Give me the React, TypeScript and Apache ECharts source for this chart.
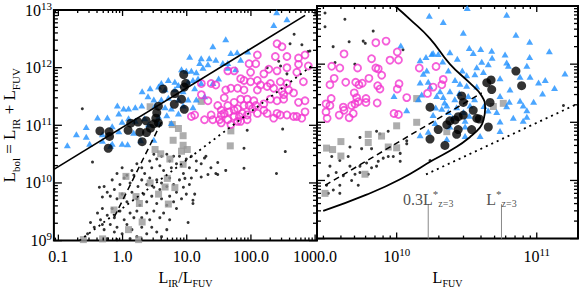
import React, { useEffect, useRef } from 'react';
import * as echarts from 'echarts';

// ---------- Left panel: [L_IR/L_FUV, L_bol] ----------
const leftDots: number[][] = [
  [0.236, 1.94e11], [0.34, 2.3e10], [0.984, 1.84e10], [1.17, 1.36e10], [1.4, 1.64e10], [1.67, 2.15e10], [1.99, 1.84e10], [2.21, 1.46e10],
  [2.65, 2.4e10], [2.85, 1.84e10], [3.07, 3.15e10], [3.41, 2.6e10], [3.81, 1.99e10], [4.05, 2.9e10], [4.36, 1.64e10], [4.89, 3.15e10],
  [5.42, 2.4e10], [5.76, 1.84e10], [6.24, 2.9e10], [6.92, 2.15e10], [7.7, 2.9e10], [8.29, 1.99e10], [8.87, 1.46e10], [9.85, 2.6e10],
  [11.0, 1.84e10], [11.8, 2.9e10], [14.1, 2.4e10], [11.8, 1.22e10], [14.1, 1.64e10], [16.8, 2.15e10], [19.9, 2.9e10], [23.8, 1.84e10],
  [28.4, 1.46e10], [16.8, 1.27e10],
  [0.69, 1.13e10], [0.82, 1.46e10], [0.91, 9.4e9], [1.06, 1.22e10], [1.31, 1e10], [1.5, 1.36e10], [1.74, 8.7e9], [1.99, 1.13e10],
  [2.38, 9.4e9], [2.65, 1.22e10], [3.07, 8.4e9], [3.41, 1.13e10], [3.81, 7.7e9], [4.05, 1e10], [4.89, 8.7e9], [5.42, 1.22e10],
  [6.24, 9.4e9], [6.92, 6.9e9], [7.7, 1.13e10], [8.87, 8.4e9], [9.85, 6.4e9], [11.0, 9.4e9],
  [0.435, 8.4e9], [0.516, 8.7e9], [0.578, 6.9e9], [0.485, 5.7e9], [0.644, 5.9e9], [0.745, 7.7e9], [0.82, 5.3e9], [0.984, 6.4e9],
  [1.17, 4.7e9], [1.4, 6.9e9], [1.67, 5.3e9], [1.86, 4.1e9], [2.14, 6.4e9], [2.38, 4.7e9], [2.85, 5.9e9], [3.41, 4.4e9],
  [4.05, 5.3e9], [4.89, 4.1e9], [5.42, 5.9e9], [6.24, 4.7e9], [6.92, 3.6e9], [8.29, 5.3e9],
  [0.407, 3e9], [0.485, 3.6e9], [0.578, 2.75e9], [0.69, 3.6e9], [0.745, 2.5e9], [0.91, 3.25e9], [1.06, 2.3e9], [1.31, 3e9],
  [1.5, 2.5e9], [1.67, 3.25e9], [1.99, 2.5e9], [2.38, 3e9], [2.65, 2.3e9], [3.07, 3.25e9], [3.81, 2.5e9], [4.36, 3e9], [5.42, 2.3e9],
  [0.317, 2.06e9], [0.362, 1.7e9], [0.453, 2.3e9], [0.516, 1.55e9], [0.644, 1.9e9], [0.745, 1.41e9], [0.82, 1.7e9], [0.984, 1.31e9],
  [1.17, 1.9e9], [1.4, 1.55e9], [1.67, 1.17e9], [1.99, 1.7e9], [2.38, 1.31e9], [2.85, 1.7e9], [3.41, 1.41e9], [4.05, 1.17e9],
  [4.89, 1.55e9], [0.578, 1.08e9], [0.82, 1.04e9], [1.31, 1.08e9], [0.285, 1.31e9], [0.485, 1.9e9],
  [10.5, 2.06e9], [12.5, 5e9], [12.5, 4.4e9], [9.36, 1.2e10], [13.3, 6.4e9], [18.9, 2.7e10], [21.4, 1.4e10], [30.4, 1.4e10],
  [30.4, 2.26e10], [40.5, 1.65e10], [78, 4e10], [78, 1.8e10], [250, 1.46e10], [343, 3.5e10], [87.5, 8.2e10], [312, 8.6e10],
  [471, 3.8e12], [407, 2.6e12], [622, 2.5e12], [828, 1.95e12], [179, 1e12], [364, 7.8e11], [774, 1.9e12], [271, 1.29e12], [290, 1.07e12],
];

const leftSquares: number[][] = [
  [2.69, 2.1e11], [16.8, 2.6e11], [5.95, 1.03e11], [7.42, 8.8e10], [8.78, 6.6e10], [6.14, 5.5e10], [8.78, 4.5e10], [3.21, 3.8e10],
  [3.93, 3.2e10], [5.46, 2.6e10], [8.29, 3.55e10], [10.2, 3.8e10], [8.78, 2.1e10], [48.7, 8e10], [47.7, 4.4e10], [1.13, 1.3e10],
  [4.98, 1.2e10], [4.6, 8.5e9], [6.53, 8.3e9], [0.984, 6e9], [1.62, 5.8e9], [1.83, 4.4e9], [0.736, 3.4e9], [2.69, 1e10],
  [5.17, 4.3e9], [3.64, 6.4e9], [2.02, 2.1e9], [1.24, 1.55e9], [0.489, 1.07e9], [0.245, 1.04e9], [1.78, 1.04e9],
];

const leftTriangles: number[][] = [
  [252, 9.1e12], [364, 6.9e12], [227, 5.5e12], [40.5, 3.1e12], [25.5, 2.35e12], [89.5, 1.9e12], [48.7, 1.8e12], [61, 1.85e12],
  [11.1, 1.55e12], [16.8, 1.46e12], [22.4, 1.46e12], [28.4, 1.37e12], [36.5, 1.2e12], [43.6, 1.2e12], [15.9, 1.2e12], [21.4, 1.14e12],
  [69.2, 1.37e12], [8.29, 9.4e11], [9.85, 8.8e11], [11.8, 8.8e11], [14.1, 8.3e11], [17.9, 1e12], [43.6, 1e12], [57.8, 9.4e11],
  [4.02, 5.4e11], [5.17, 6.1e11], [6.53, 5.7e11], [7.42, 5e11], [10.5, 5.7e11], [12.5, 6.1e11], [15, 6.5e11], [16.8, 5.4e11],
  [25.5, 5.4e11], [31.4, 6.5e11], [2.69, 4.4e11], [3.64, 4.7e11], [4.6, 4.2e11], [6.53, 4.2e11], [8.78, 3.9e11], [13.3, 4.4e11],
  [2.02, 3.9e11], [2.49, 3.2e11], [3.07, 2.8e11], [4.02, 2.8e11], [5.17, 3e11], [7.42, 2.8e11], [10.5, 2.8e11], [14.1, 2.8e11], [19, 3.2e11],
  [0.83, 2.2e11], [1.04, 1.95e11], [1.24, 1.95e11], [1.58, 2.05e11], [1.99, 2.2e11], [3.21, 2.2e11], [4.6, 2.05e11], [5.76, 1.95e11],
  [8.78, 2.2e11], [12.5, 2.05e11], [0.408, 1.36e11], [0.58, 1.36e11], [0.875, 1.6e11], [1.24, 1.33e11], [1.58, 1.2e11], [2.21, 1.33e11],
  [3.64, 1.42e11], [4.89, 1.5e11], [7.42, 1.6e11], [0.272, 9.3e10], [0.69, 9.6e10], [0.984, 1.15e11], [2.53, 1.03e11], [3.64, 1.1e11],
  [5.76, 1.1e11], [0.191, 7e10], [0.272, 6.3e10], [0.485, 7e10], [0.875, 7.9e10], [1.49, 7.4e10], [0.138, 4.5e10], [0.307, 4.8e10],
  [0.485, 5.4e10], [0.69, 4.8e10], [0.984, 4.8e10], [0.653, 4.4e10], [1.2, 4.7e10], [1.92, 5.5e10], [3.07, 5.6e10],
];

const leftMagenta: number[][] = [
  [255, 2.6e12], [305, 2.3e12], [126, 1.66e12], [119, 1.17e12], [93.6, 1.17e12], [240, 1.56e12], [364, 1.56e12], [551, 1.47e12],
  [696, 1.66e12], [551, 1.14e12], [784, 1.07e12], [190, 9.4e11], [255, 8.8e11], [364, 1e12], [518, 8.3e11], [43.6, 8.8e11],
  [54.8, 8.8e11], [98.8, 8.3e11], [159, 7.8e11], [78, 6e11], [98.8, 5.7e11], [69.2, 6.45e11], [16.9, 5.3e11], [24, 5.3e11],
  [48.7, 4.4e11], [62, 4.4e11], [78, 4.1e11], [126, 4.1e11], [179, 4.7e11], [226, 4.4e11], [287, 5.7e11], [364, 5.3e11],
  [386, 4.1e11], [462, 3.65e11], [657, 5.7e11], [16.9, 3.4e11], [21.4, 2.66e11], [38.4, 3e11], [54.8, 2.5e11], [69.2, 2.84e11],
  [87.5, 2.84e11], [111, 2.66e11], [159, 2.35e11], [201, 2.84e11], [255, 2.66e11], [324, 2.84e11], [551, 2.5e11], [696, 2.66e11],
  [30.4, 2.2e11], [34.4, 1.82e11], [43.6, 2.2e11], [54.8, 1.82e11], [62, 1.94e11], [78, 2.2e11], [93.6, 2.2e11], [119, 2.2e11],
  [159, 1.82e11], [34.4, 1.51e11], [38.4, 1.61e11], [54.8, 1.42e11], [66, 1.42e11], [87.5, 1.51e11], [126, 1.61e11], [179, 1.61e11],
  [255, 1.61e11], [364, 1.51e11], [518, 1.42e11], [696, 1.71e11], [11.8, 1.42e11], [13.3, 1.51e11], [24, 1.51e11], [25.5, 1.25e11],
  [32.4, 1.25e11], [43.6, 1.25e11], [48.7, 1.03e11], [62, 1.17e11], [69.2, 1.17e11], [87.5, 1.25e11], [226, 1.33e11], [287, 1.51e11],
  [34.4, 1.1e11], [462, 1.42e11], [619, 1.33e11], [18.9, 1.25e11], [45.6, 1.71e11], [73.2, 1.61e11], [105, 1.94e11], [305, 3.9e11],
  [126, 6e11], [201, 5.3e11], [141, 5e11], [324, 3.4e11], [40.5, 4.1e11], [28.4, 5e11],
];

const leftBigCircles: number[][] = [
  [8.97, 7.6e11], [9.65, 5.35e11], [9.16, 4.6e11], [4.27, 4.26e11], [6.53, 3.56e11], [8.29, 2.84e11], [6.4, 2.32e11], [9.16, 1.89e11],
  [3.62, 2.15e11], [3.41, 1.65e11], [3.3, 1.33e11], [3.07, 1.06e11], [2.72, 8.9e10], [2.33, 1.2e11], [1.74, 1.14e11], [1.34, 1.09e11],
  [2.36, 7.5e10], [1.86, 7.6e10], [1.22, 8.2e10], [0.617, 7.7e10], [0.444, 8e10], [0.626, 6.4e10], [2.02, 5.2e10], [0.599, 4e10], [3.62, 1.1e11],
];

const leftSolidLine: number[][] = [[0.0852, 1.72e10], [698, 8.05e12]];
const leftDashedLine: number[][] = [[0.745, 2.58e9], [4.05, 1.14e11]];
const leftDottedLine: number[][] = [[0.213, 1e9], [883, 1.07e12]];

// ---------- Right panel: [L_FUV, L_bol] ----------
const rightDots: number[][] = [
  [3.08e9, 7.6e12], [4.27e9, 5.9e12], [3.08e9, 4.4e12], [6.8e9, 3.7e12], [3.52e9, 2.0e12], [4.58e9, 2.43e12], [5.77e9, 2.49e12],
  [5.97e9, 2.28e12], [3.63e9, 1.07e12], [5.03e9, 1e12], [1.11e10, 1.77e12],
  [5.47e9, 5.5e10], [4.64e9, 3.76e10], [5.62e9, 3.52e10], [6.62e9, 3.52e10], [1.06e10, 2.92e10], [1.18e10, 4.26e10], [1.06e10, 2.13e10],
  [3.44e9, 2.58e10], [3.34e9, 1.76e10], [3.25e9, 1.21e10], [3.16e9, 8.26e9], [4.51e9, 2.58e10], [4.64e9, 1.76e10], [5.04e9, 1.28e10],
  [4.77e9, 1e10], [5.32e9, 8.26e9], [3.93e9, 6e9], [3.53e9, 6.84e9], [3.25e9, 6e9], [3.93e9, 8.26e9], [4.16e9, 1.21e10],
  [5.47e9, 1.76e10], [5.47e9, 1.37e10], [6.27e9, 1.28e10], [6.1e9, 2e10], [7.39e9, 2.13e10], [8.02e9, 2.42e10], [8.71e9, 2.58e10],
  [9.46e9, 2.58e10], [7.19e9, 1.76e10], [6.62e9, 1.65e10], [3.7e9, 1.37e10], [3.93e9, 2.2e10], [7.19e9, 7e10], [7.6e9, 6.3e10],
  [8.7e9, 7e10], [1.18e10, 4.8e10], [1.73e10, 2.2e10], [1.55e11, 1.94e11],
];

const rightSquares: number[][] = [
  [1.39e10, 2.56e11], [1.39e10, 1.0e11], [1.0e10, 8.7e10], [7.8e9, 5.8e10], [6.27e9, 6.2e10], [6.27e9, 4.5e10], [4e9, 4.66e10],
  [3.16e9, 3.6e10], [3.49e9, 3.4e10], [4e9, 2.63e10], [8.71e9, 3.76e10], [1e10, 3.64e10], [5.94e9, 1.28e10], [2.28e10, 6.9e10],
  [4.9e10, 1.87e11], [5.77e10, 2.12e11], [3.08e9, 6e9],
];

const rightTriangles: number[][] = [
  [3.19e10, 9.2e12], [6.1e10, 7.1e12], [2.15e10, 5.3e12], [2.99e10, 3.46e12], [7.1e10, 3.21e12], [8.9e10, 2.43e12], [3.3e10, 1.89e12],
  [3.98e10, 1.82e12], [4.77e10, 1.7e12], [3.52e10, 1.56e12], [1.23e11, 1.66e12], [1.82e10, 1.56e12], [2.4e10, 1.6e12], [2.71e10, 1.24e12],
  [4.8e10, 1.29e12], [5.94e10, 1.46e12], [8.9e10, 1.33e12], [2.13e10, 1.11e12], [4.05e10, 1.1e12], [4.51e10, 1e12], [6.1e10, 1.07e12],
  [6.27e10, 9.4e11], [8.5e10, 9.4e11], [3.73e10, 8.85e11], [2.94e10, 7.8e11], [2.34e10, 7.8e11], [3.16e10, 6.45e11], [3.62e10, 6.7e11],
  [4.16e10, 7.3e11], [5.47e10, 5.7e11], [7.6e10, 6.05e11], [8.96e10, 6.05e11], [1.03e11, 4.82e11], [1.15e11, 5.35e11], [1.59e11, 6.9e11],
  [2.61e10, 5.35e11], [2.83e10, 4.6e11], [3.16e10, 4.26e11], [3.73e10, 4.14e11], [6.44e10, 3.66e11], [1.34e11, 3.88e11], [1.1e11, 3.14e11],
  [2.4e10, 3.43e11], [1.93e10, 2.84e11], [2.15e10, 2.73e11], [3.24e10, 2.84e11], [5.47e10, 2.84e11], [6.37e10, 2.26e11], [7.6e10, 2.35e11],
  [9.5e10, 2.26e11], [8e10, 1.94e11], [8.5e10, 1.61e11], [8.5e10, 1.25e11], [6.1e10, 1.89e11], [3.34e10, 1.94e11], [2.68e10, 1.82e11],
  [2.1e10, 1.71e11], [1.82e10, 1.33e11], [2.34e10, 1.51e11], [5.18e10, 1.51e11], [5.47e10, 1.03e11], [6.8e10, 1.2e11], [8e10, 1.06e11],
  [3.08e10, 1.06e11], [3.08e10, 8.5e10], [5.47e10, 7.1e10], [1.88e10, 9.7e10], [2.4e10, 8.5e10], [3.94e10, 5.8e10], [3.08e10, 5.8e10],
  [1.07e10, 2.09e12], [1.47e10, 1.17e12], [1.62e10, 1.33e12], [1.78e10, 1.5e12], [1.98e10, 1.5e12], [9.57e9, 2.84e11], [1.18e10, 1.61e11],
  [1.43e10, 2.5e11], [1.51e10, 3.02e11], [1.47e10, 4.82e11], [1.68e10, 5e11], [1.55e10, 6.85e11], [1.64e10, 7.8e11], [1.73e10, 4.14e11],
  [2.04e10, 3.43e11], [2.28e10, 1.94e11], [1.47e10, 6e10], [1.68e10, 6.9e10], [2.28e10, 5.15e10], [1.71e10, 6.8e12],
  [2.6e10, 2.5e11], [3.0e10, 1.5e11], [2.2e10, 2.2e11], [3.6e10, 2.5e11], [4.2e10, 1.9e11], [2.5e10, 1.2e11], [3.3e10, 1.3e11],
  [4.5e10, 1.6e11], [1.9e10, 1.8e11], [2.8e10, 3.2e11],
];

const rightMagenta: number[][] = [
  [8.4e9, 2.49e12], [7.1e9, 2.34e12], [1.01e10, 1.62e12], [4.21e9, 1.5e12], [6.62e9, 1.24e12], [8.96e9, 1.17e12], [1.03e10, 1.18e12],
  [3.44e9, 9.2e11], [3.93e9, 8.6e11], [5.26e9, 8.6e11], [7.1e9, 8.6e11], [7.39e9, 8.3e11], [7.82e9, 6.45e11], [6.34e9, 5.7e11],
  [3.58e9, 5.7e11], [4.33e9, 4.88e11], [5.1e9, 4.88e11], [5.38e9, 4.42e11], [5.68e9, 4.7e11], [3.34e9, 4.42e11], [7.32e9, 4.26e11],
  [7.6e9, 3.74e11], [1.04e10, 4.6e11], [1.01e10, 3.74e11], [4.98e9, 3.21e11], [3.41e9, 2.56e11], [5.18e9, 2.66e11], [6.04e9, 2.56e11],
  [6.04e9, 2.2e11], [7.26e9, 2.15e11], [5.32e9, 2.26e11], [5.04e9, 2.07e11], [4.16e9, 1.82e11], [4.77e9, 1.94e11], [3.34e9, 1.94e11],
  [3.13e9, 2.07e11], [3.13e9, 1.51e11], [3.19e9, 1.17e11], [3.89e9, 1.33e11], [4.21e9, 1.61e11], [4.58e9, 1.2e11], [4.9e9, 1.42e11],
  [9.57e9, 1.42e11], [1.03e10, 1.36e11], [1.18e10, 2.66e11], [1.45e10, 8.6e11], [1.91e10, 9.1e11], [1.66e10, 3.14e11], [1.82e10, 4.03e11],
  [2.1e10, 4.42e11], [2.15e10, 5.46e11],
];

const rightBigCircles: number[][] = [
  [7.1e10, 7.6e11], [7.8e10, 4.26e11], [4.4e10, 4.8e11], [4.72e10, 5.35e11], [4.77e10, 3.66e11], [4.64e10, 2.2e11], [2.91e10, 2.84e11],
  [2.99e10, 2.2e11], [3.52e10, 1.61e11], [2.99e10, 1.33e11], [2.75e10, 1.25e11], [2.4e10, 1.06e11], [3.73e10, 1.17e11], [3.89e10, 1.14e11],
  [2.28e10, 9.1e10], [1.98e10, 7.5e10], [2.75e10, 7.5e10], [3.43e10, 7.5e10], [4.51e10, 8.3e10], [1.73e10, 5.15e10], [2.68e10, 6.2e10],
  [1.73e10, 1.82e11], [2.21e10, 4e10], [2.61e10, 1.1e11],
];

const rightSolidCurve: number[][] = [
  [9.73e9, 1e13], [1.245e10, 5.9e12], [1.73e10, 2.75e12], [2.4e10, 1e12], [3.34e10, 4.7e11], [4.05e10, 2.84e11], [4.28e10, 1.73e11],
  [4.13e10, 1.02e11], [3.93e10, 8.1e10], [3.34e10, 5.6e10], [2.68e10, 3.8e10], [1.82e10, 2.24e10], [1.06e10, 1.05e10], [6.1e9, 5.7e9],
  [2.99e9, 3e9],
];
const rightDashedLine: number[][] = [[3.09e9, 8.26e9], [4.05e10, 3.2e11]];
const rightDottedLine: number[][] = [[1.62e10, 1.27e10], [1.97e11, 2.1e11]];

const lStar = 5.6e10;
const lStarThird = 1.68e10;
const lStarLineTop = 3.9e9;

// ---------- Axes ----------
const irxRange = [0.0852, 1070];
const fuvRange = [2.7e9, 1.97e11];
const lumRange = [1e9, 1e13];
const irxTickLabels: Record<string, string> = { '-1': '0.1', '0': '1.0', '1': '10.0', '2': '100.0', '3': '1000.0' };
const lumTickExponents = [9, 10, 11, 12, 13];
const fuvTickExponents = [10, 11];

const SERIF = '"Liberation Serif", "DejaVu Serif", "Times New Roman", serif';

function logTicks(lo: number, hi: number) {
  const out: { v: number; major: number }[] = [];
  const e0 = Math.floor(Math.log10(lo)) - 1;
  const e1 = Math.ceil(Math.log10(hi)) + 1;
  for (let e = e0; e <= e1; e++) {
    for (let m = 1; m <= 9; m++) {
      const v = m * Math.pow(10, e);
      if (v >= lo * 0.9999 && v <= hi * 1.0001) out.push({ v, major: m === 1 ? 1 : 0 });
    }
  }
  return out;
}

function tickItems(xr: number[], yr: number[]) {
  const items: number[][] = [];
  logTicks(xr[0], xr[1]).forEach((t) => items.push([t.v, yr[0], 0, t.major]));
  logTicks(yr[0], yr[1]).forEach((t) => items.push([xr[0], t.v, 1, t.major]));
  return items;
}

const richBase = {
  b: { fontFamily: SERIF, fontSize: 16, color: '#000' },
  s: { fontFamily: SERIF, fontSize: 11, color: '#000', padding: [0, 0, 9, 0] },
  u: { fontFamily: SERIF, fontSize: 10, color: '#000', padding: [11, 0, 0, 0] },
};
const richName = {
  b: { fontFamily: SERIF, fontSize: 17, color: '#000' },
  u: { fontFamily: SERIF, fontSize: 11, color: '#000', padding: [12, 0, 0, 0] },
};

function isPow(v: number) {
  const l = Math.log10(v);
  return Math.abs(l - Math.round(l)) < 1e-6;
}

export default function App() {
  const ref = useRef<HTMLDivElement>(null);
  useEffect(() => {
    document.body.style.margin = '0';
    if (!ref.current) return;
    const chart = echarts.init(ref.current, undefined, { renderer: 'svg' });

    const tickSeries = (xi: number, data: number[][]) => ({
      type: 'custom',
      xAxisIndex: xi,
      yAxisIndex: xi,
      silent: true,
      z: 5,
      data,
      renderItem: (params: any, api: any) => {
        const cs = params.coordSys;
        const kind = api.value(2);
        const major = api.value(3) === 1;
        const st = { stroke: '#000', lineWidth: 1.3 };
        if (kind === 0) {
          const px = api.coord([api.value(0), api.value(1)])[0];
          const len = major ? 6 : 3;
          const yb = cs.y + cs.height;
          return {
            type: 'group',
            children: [
              { type: 'line', shape: { x1: px, y1: yb, x2: px, y2: yb - len }, style: st },
              { type: 'line', shape: { x1: px, y1: cs.y, x2: px, y2: cs.y + len }, style: st },
            ],
          };
        }
        const py = api.coord([api.value(0), api.value(1)])[1];
        const len = major ? 8 : 4;
        const xr = cs.x + cs.width;
        return {
          type: 'group',
          children: [
            { type: 'line', shape: { x1: cs.x, y1: py, x2: cs.x + len, y2: py }, style: st },
            { type: 'line', shape: { x1: xr, y1: py, x2: xr - len, y2: py }, style: st },
          ],
        };
      },
    });

    const pts = (i: number, data: number[][], kind: string) => {
      const base: any = { type: 'scatter', xAxisIndex: i, yAxisIndex: i, data, silent: true };
      if (kind === 'dot') return { ...base, symbol: 'circle', symbolSize: 3, itemStyle: { color: '#000' }, z: 2 };
      if (kind === 'sq') return { ...base, symbol: 'rect', symbolSize: 7, itemStyle: { color: '#999999' }, z: 2 };
      if (kind === 'tri') return { ...base, symbol: 'triangle', symbolSize: [7, 6], itemStyle: { color: '#1E90FF' }, z: 2 };
      if (kind === 'mag')
        return { ...base, symbol: 'circle', symbolSize: 7, itemStyle: { color: 'rgba(0,0,0,0)', borderColor: '#F236CF', borderWidth: 1.8 }, z: 3 };
      return { ...base, symbol: 'circle', symbolSize: 9, itemStyle: { color: '#000' }, z: 3 };
    };

    const line = (i: number, data: number[][], type: any, width: number, smooth = false) => ({
      type: 'line', xAxisIndex: i, yAxisIndex: i, data, symbol: 'none', smooth, silent: true, z: 4,
      lineStyle: { color: '#000', width, type },
    });

    const starLabel = (x: number, text: string) => ({
      type: 'scatter', xAxisIndex: 1, yAxisIndex: 1, silent: true, z: 6,
      symbolSize: 1, itemStyle: { color: 'rgba(0,0,0,0)' },
      data: [{ value: [x, lStarLineTop], label: { show: true, position: 'top', distance: -6, formatter: text, rich: {
        b: { fontFamily: SERIF, fontSize: 16, color: '#222' },
        u: { fontFamily: SERIF, fontSize: 10, color: '#222', padding: [9, 0, 0, 0] },
        st: { fontFamily: SERIF, fontSize: 11, color: '#222', padding: [0, 0, 10, 0] },
      } } }],
    });

    const option: any = {
      animation: false,
      backgroundColor: '#fff',
      grid: [
        { left: 51, top: 6, width: 266, height: 243, show: true, borderColor: '#000', borderWidth: 2, backgroundColor: 'transparent' },
        { left: 317, top: 6, width: 261, height: 243, show: true, borderColor: '#000', borderWidth: 2, backgroundColor: 'transparent' },
      ],
      xAxis: [
        {
          type: 'log', gridIndex: 0, min: irxRange[0], max: irxRange[1], logBase: 10,
          axisLine: { show: false }, axisTick: { show: false }, splitLine: { show: false },
          axisLabel: {
            showMinLabel: true, showMaxLabel: true, hideOverlap: false, margin: 8,
            fontFamily: SERIF, fontSize: 16, color: '#000',
            formatter: (v: number) => (isPow(v) ? irxTickLabels[String(Math.round(Math.log10(v)))] || '' : ''),
          },
          name: '{b|L}{u|IR}{b|/L}{u|FUV}', nameLocation: 'middle', nameGap: 26,
          nameTextStyle: { rich: richBase },
        },
        {
          type: 'log', gridIndex: 1, min: fuvRange[0], max: fuvRange[1], logBase: 10,
          axisLine: { show: false }, axisTick: { show: false }, splitLine: { show: false },
          axisLabel: {
            showMinLabel: true, showMaxLabel: true, hideOverlap: false, margin: 8, rich: richBase,
            formatter: (v: number) => {
              const e = Math.round(Math.log10(v));
              return isPow(v) && fuvTickExponents.includes(e) ? `{b|10}{s|${e}}` : '';
            },
          },
          name: '{b|L}{u|FUV}', nameLocation: 'middle', nameGap: 26,
          nameTextStyle: { rich: richBase },
        },
      ],
      yAxis: [
        {
          type: 'log', gridIndex: 0, min: lumRange[0], max: lumRange[1], logBase: 10,
          axisLine: { show: false }, axisTick: { show: false }, splitLine: { show: false },
          axisLabel: {
            showMinLabel: true, showMaxLabel: true, hideOverlap: false, margin: 2, rich: richBase,
            formatter: (v: number) => {
              const e = Math.round(Math.log10(v));
              return isPow(v) && lumTickExponents.includes(e) ? `{b|10}{s|${e}}` : '';
            },
          },
          name: '{b|L}{u|bol}{b| = L}{u|IR}{b| + L}{u|FUV}', nameLocation: 'middle', nameGap: 27, nameRotate: 90,
          nameTextStyle: { rich: richName },
        },
        {
          type: 'log', gridIndex: 1, min: lumRange[0], max: lumRange[1], logBase: 10,
          axisLine: { show: false }, axisTick: { show: false }, splitLine: { show: false }, axisLabel: { show: false },
        },
      ],
      series: [
        pts(0, leftDots, 'dot'),
        pts(0, leftSquares, 'sq'),
        pts(0, leftTriangles, 'tri'),
        pts(0, leftMagenta, 'mag'),
        pts(0, leftBigCircles, 'big'),
        line(0, leftSolidLine, 'solid', 1.6),
        line(0, leftDashedLine, [6, 4], 1.5),
        line(0, leftDottedLine, [2, 4], 1.8),
        pts(1, rightDots, 'dot'),
        pts(1, rightSquares, 'sq'),
        pts(1, rightTriangles, 'tri'),
        pts(1, rightMagenta, 'mag'),
        pts(1, rightBigCircles, 'big'),
        line(1, rightSolidCurve, 'solid', 1.8, true),
        line(1, rightDashedLine, [6, 4], 1.5),
        line(1, rightDottedLine, [2, 4], 1.8),
        {
          type: 'line', xAxisIndex: 1, yAxisIndex: 1, symbol: 'none', silent: true, z: 4,
          lineStyle: { color: '#888', width: 1 }, data: [[lStarThird, lumRange[0]], [lStarThird, lStarLineTop]],
        },
        {
          type: 'line', xAxisIndex: 1, yAxisIndex: 1, symbol: 'none', silent: true, z: 4,
          lineStyle: { color: '#888', width: 1 }, data: [[lStar, lumRange[0]], [lStar, lStarLineTop]],
        },
        starLabel(lStarThird, '{b|0.3L}{st|*}{u|z=3}'),
        starLabel(lStar, '{b|L}{st|*}{u|z=3}'),
        tickSeries(0, tickItems(irxRange, lumRange)),
        tickSeries(1, tickItems(fuvRange, lumRange)),
      ],
    };
    chart.setOption(option);
    return () => chart.dispose();
  }, []);
  return <div ref={ref} style={{ position: 'fixed', left: 0, top: 0, width: 581, height: 293, background: '#fff' }} />;
}
